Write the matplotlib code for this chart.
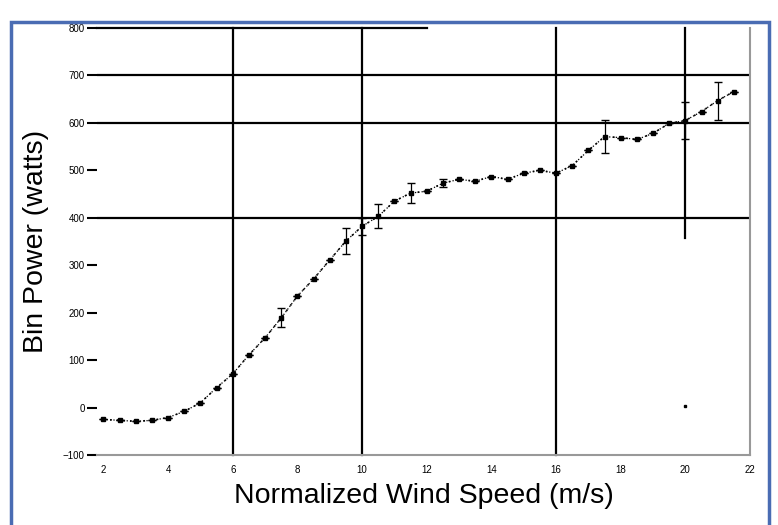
import numpy as np
import matplotlib.pyplot as plt
from matplotlib.patches import Rectangle

plt.rcParams['font.family'] = ['Liberation Sans', 'DejaVu Sans']

# bin data
wind_speed = [2.0, 2.5, 3.0, 3.5, 4.0, 4.5, 5.0, 5.5, 6.0, 6.5, 7.0, 7.5, 8.0, 8.5,
              9.0, 9.5, 10.0, 10.5, 11.0, 11.5, 12.0, 12.5, 13.0, 13.5, 14.0, 14.5,
              15.0, 15.5, 16.0, 16.5, 17.0, 17.5, 18.0, 18.5, 19.0, 19.5, 20.0,
              20.5, 21.0, 21.5]
bin_power = [-25, -27, -29, -27, -21, -8, 10, 42, 71, 111, 147, 189, 235, 271,
             311, 351, 382, 403, 435, 452, 456, 473, 481, 477, 487, 481,
             494, 500, 494, 510, 542, 571, 569, 565, 578, 599, 605,
             624, 647, 666]
power_err = [0, 0, 0, 0, 0, 0, 0, 0, 0, 0, 0, 20, 0, 0,
             0, 27, 18, 25, 0, 21, 0, 8, 0, 0, 0, 0,
             0, 0, 0, 0, 0, 35, 0, 0, 0, 0, 38,
             0, 40, 0]
outlier_speed = [20.0]
outlier_power = [4]

x_ticks = [2, 4, 6, 8, 10, 12, 14, 16, 18, 20, 22]
y_ticks = [-100, 0, 100, 200, 300, 400, 500, 600, 700, 800]

fig = plt.figure(figsize=(7.78, 5.25), dpi=100)
fig.patches.append(Rectangle((11 / 778, -0.05), 758 / 778, 1.03 - 11 / 525,
                             transform=fig.transFigure, fill=False,
                             edgecolor='#4a6cb3', linewidth=2.5))

ax = fig.add_axes([97 / 778, 70 / 525, 653 / 778, 427 / 525])

# partial grid lines as in the scan
for yv in [400, 600, 700]:
    ax.plot([1.8, 22], [yv, yv], color='black', lw=1.6, zorder=1)
ax.plot([1.8, 12], [800, 800], color='black', lw=1.6, zorder=1, clip_on=False)
for xv in [6, 10, 16]:
    ax.plot([xv, xv], [-100, 800], color='black', lw=1.6, zorder=1, clip_on=False)
ax.plot([20, 20], [357, 800], color='black', lw=1.6, zorder=1, clip_on=False)

ax.errorbar(wind_speed, bin_power, yerr=power_err, fmt='s', color='black',
            ms=3, lw=0.9, capsize=3, ls=':', zorder=3)
ax.plot(wind_speed, bin_power, ls=(0, (1, 3)), color='black', lw=1.2, zorder=2)
ax.plot(outlier_speed, outlier_power, 's', color='black', ms=1.8, zorder=3)

ax.set_xlim(1.8, 22)
ax.set_ylim(-100, 800)
ax.set_xticks(x_ticks)
ax.set_yticks(y_ticks)
ax.tick_params(axis='x', length=0, labelsize=7, pad=7)
ax.tick_params(axis='y', length=7, width=1.5, labelsize=7, pad=2)
ax.spines['left'].set_visible(False)
ax.spines['top'].set_visible(False)
ax.spines['bottom'].set_color('#999999')
ax.spines['right'].set_color('#999999')
ax.spines['bottom'].set_linewidth(1.5)
ax.spines['right'].set_linewidth(1.5)

ax.set_xlabel('Normalized Wind Speed (m/s)', fontsize=20.5, labelpad=6)
ax.set_ylabel('Bin Power (watts)', fontsize=20.5, labelpad=10)

fig.savefig('out.png', dpi=100)
